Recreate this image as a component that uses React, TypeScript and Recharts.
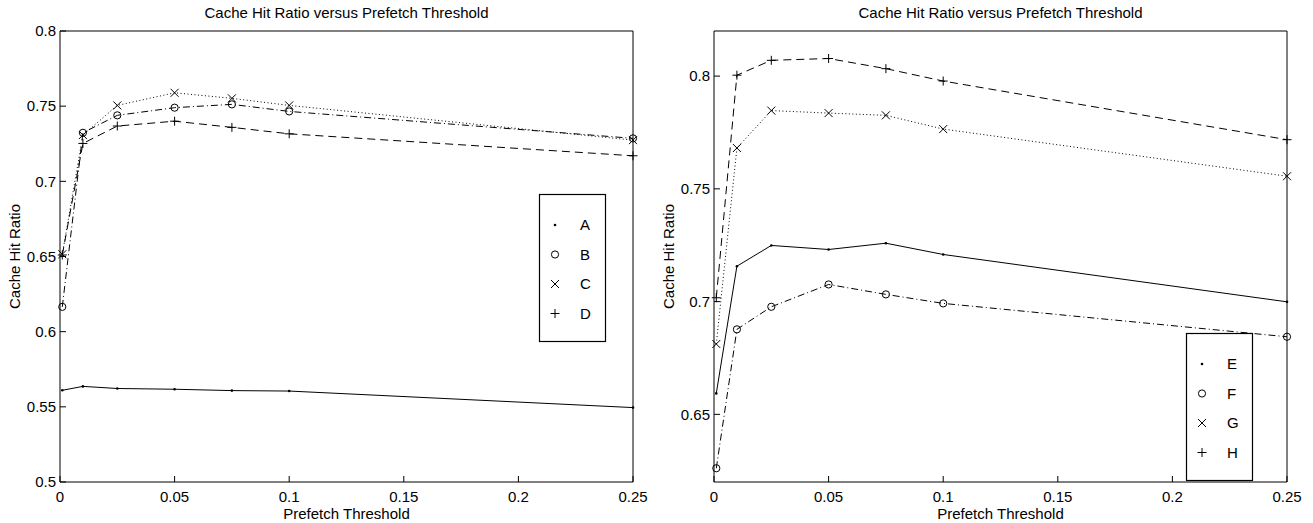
import { LineChart, Line, XAxis, YAxis, Label } from "recharts";

// prefetch thresholds where the hit ratio was measured
const thresholds = [0.001, 0.01, 0.025, 0.05, 0.075, 0.1, 0.25];
const xTicks = [0, 0.05, 0.1, 0.15, 0.2, 0.25];

// left panel
const seriesA = [0.561, 0.5636, 0.5622, 0.5617, 0.5608, 0.5605, 0.5495];
const seriesB = [0.6165, 0.7323, 0.7439, 0.749, 0.7512, 0.7465, 0.7286];
const seriesC = [0.6515, 0.7308, 0.7505, 0.7589, 0.7552, 0.7505, 0.7274];
const seriesD = [0.651, 0.7252, 0.7368, 0.74, 0.7359, 0.7316, 0.717];
const leftYTicks = [0.5, 0.55, 0.6, 0.65, 0.7, 0.75, 0.8];

// right panel
const seriesE = [0.6593, 0.7157, 0.7249, 0.7231, 0.7259, 0.7209, 0.6999];
const seriesF = [0.6261, 0.6877, 0.6977, 0.7076, 0.7032, 0.6992, 0.6844];
const seriesG = [0.6812, 0.7681, 0.7847, 0.7836, 0.7826, 0.7765, 0.7556];
const seriesH = [0.7017, 0.8004, 0.807, 0.8078, 0.8033, 0.7978, 0.7718];
const rightYTicks = [0.65, 0.7, 0.75, 0.8];

const TITLE = "Cache Hit Ratio versus Prefetch Threshold";
const FONT = 15;
const TICK_LEN = 6;
const X_GAP = 9;
const Y_GAP = 4;

type MarkerKind = "point" | "circle" | "x" | "plus";
type Series = { name: string; values: number[]; marker: MarkerKind; dash?: string };

// matlab-ish line styles: '-', '-.', ':', '--'
const SOLID = undefined;
const DASH_DOT = "7 3 1 3";
const DOTTED = "1 2.5";
const DASHED = "8 5";

const leftSeries: Series[] = [
  { name: "A", values: seriesA, marker: "point", dash: SOLID },
  { name: "B", values: seriesB, marker: "circle", dash: DASH_DOT },
  { name: "C", values: seriesC, marker: "x", dash: DOTTED },
  { name: "D", values: seriesD, marker: "plus", dash: DASHED },
];

const rightSeries: Series[] = [
  { name: "E", values: seriesE, marker: "point", dash: SOLID },
  { name: "F", values: seriesF, marker: "circle", dash: DASH_DOT },
  { name: "G", values: seriesG, marker: "x", dash: DOTTED },
  { name: "H", values: seriesH, marker: "plus", dash: DASHED },
];

function Marker({ kind, cx, cy }: { kind: MarkerKind; cx: number; cy: number }) {
  if (cx == null || cy == null) return null;
  switch (kind) {
    case "point":
      return <circle cx={cx} cy={cy} r={1.3} fill="#000" />;
    case "circle":
      return <circle cx={cx} cy={cy} r={3.6} fill="none" stroke="#000" strokeWidth={1} />;
    case "x":
      return (
        <path
          d={`M${cx - 4},${cy - 4}L${cx + 4},${cy + 4}M${cx - 4},${cy + 4}L${cx + 4},${cy - 4}`}
          stroke="#000"
          strokeWidth={1}
          fill="none"
        />
      );
    default:
      return (
        <path
          d={`M${cx - 4.5},${cy}H${cx + 4.5}M${cx},${cy - 4.5}V${cy + 4.5}`}
          stroke="#000"
          strokeWidth={1}
          fill="none"
        />
      );
  }
}

// bottom tick: label below, tick mark pointing into the plot
const XTick = (props: any) => {
  const { x, y, payload } = props;
  return (
    <g>
      <line x1={x} x2={x} y1={y - X_GAP} y2={y - X_GAP - TICK_LEN} stroke="#000" />
      <text x={x} y={y} dy="0.71em" textAnchor="middle" fontSize={FONT} fill="#000">
        {payload.value}
      </text>
    </g>
  );
};

const YTick = (props: any) => {
  const { x, y, payload } = props;
  return (
    <g>
      <line x1={x + Y_GAP} x2={x + Y_GAP + TICK_LEN} y1={y} y2={y} stroke="#000" />
      <text x={x} y={y} dy="0.355em" textAnchor="end" fontSize={FONT} fill="#000">
        {payload.value}
      </text>
    </g>
  );
};

function LegendBox({ series, left, top }: { series: Series[]; left: number; top: number }) {
  const w = 67;
  const h = 148;
  return (
    <svg
      width={w}
      height={h}
      style={{ position: "absolute", left, top, overflow: "visible" }}
    >
      <rect x={0.5} y={0.5} width={w - 1} height={h - 1} fill="#fff" stroke="#000" strokeWidth={1.2} />
      {series.map((s, i) => {
        const cy = 31 + i * 29.5;
        return (
          <g key={s.name}>
            <Marker kind={s.marker} cx={16} cy={cy} />
            <text x={41} y={cy} dy="0.355em" fontSize={FONT} fill="#000">
              {s.name}
            </text>
          </g>
        );
      })}
    </svg>
  );
}

function Panel({
  series,
  yDomain,
  yTicks,
  width,
  legendLeft,
  legendTop,
}: {
  series: Series[];
  yDomain: [number, number];
  yTicks: number[];
  width: number;
  legendLeft: number;
  legendTop: number;
}) {
  const data = thresholds.map((t, i) => {
    const row: Record<string, number> = { t };
    for (const s of series) row[s.name] = s.values[i];
    return row;
  });
  const plotLeft = 60;
  const plotRight = width - 26;

  return (
    <div style={{ position: "relative", width, height: 523 }}>
      <LineChart width={width} height={523} data={data} margin={{ top: 31, right: 26, bottom: 0, left: 0 }}>
        <text
          x={(plotLeft + plotRight) / 2}
          y={18}
          textAnchor="middle"
          fontSize={FONT}
          fill="#000"
        >
          {TITLE}
        </text>
        <XAxis
          xAxisId="x"
          dataKey="t"
          type="number"
          domain={[0, 0.25]}
          ticks={xTicks}
          height={41}
          stroke="#000"
          tickLine={false}
          tickSize={0}
          tickMargin={X_GAP}
          tick={<XTick />}
          interval={0}
        >
          <Label value="Prefetch Threshold" position="insideBottom" offset={4} fontSize={FONT} fill="#000" />
        </XAxis>
        <XAxis
          xAxisId="top"
          orientation="top"
          mirror
          type="number"
          domain={[0, 0.25]}
          ticks={xTicks}
          allowDataOverflow
          stroke="#000"
          tick={false}
          tickSize={TICK_LEN}
          interval={0}
        />
        <YAxis
          yAxisId="y"
          type="number"
          domain={yDomain}
          ticks={yTicks}
          width={60}
          stroke="#000"
          tickLine={false}
          tickSize={0}
          tickMargin={Y_GAP}
          tick={<YTick />}
          interval={0}
        >
          <Label
            value="Cache Hit Ratio"
            angle={-90}
            position="insideLeft"
            offset={15}
            textAnchor="middle"
            fontSize={FONT}
            fill="#000"
          />
        </YAxis>
        <YAxis
          yAxisId="right"
          orientation="right"
          mirror
          type="number"
          domain={yDomain}
          ticks={yTicks}
          allowDataOverflow
          stroke="#000"
          tick={false}
          tickSize={TICK_LEN}
          interval={0}
        />
        {series.map((s) => (
          <Line
            key={s.name}
            xAxisId="x"
            yAxisId="y"
            type="linear"
            dataKey={s.name}
            stroke="#000"
            strokeWidth={1}
            strokeDasharray={s.dash}
            isAnimationActive={false}
            activeDot={false}
            dot={(p: any) => (
              <Marker key={`${s.name}-${p.index}`} kind={s.marker} cx={p.cx} cy={p.cy} />
            )}
          />
        ))}
      </LineChart>
      <LegendBox series={series} left={legendLeft} top={legendTop} />
    </div>
  );
}

export default function App() {
  return (
    <div
      style={{
        position: "absolute",
        left: 0,
        top: 0,
        width: 1313,
        height: 523,
        background: "#fff",
        fontFamily: "'Liberation Sans', Arial, Helvetica, sans-serif",
      }}
    >
      <div style={{ position: "absolute", left: 0, top: 0 }}>
        <Panel
          series={leftSeries}
          yDomain={[0.5, 0.8]}
          yTicks={leftYTicks}
          width={659}
          legendLeft={539}
          legendTop={194}
        />
      </div>
      <div style={{ position: "absolute", left: 654, top: 0 }}>
        <Panel
          series={rightSeries}
          yDomain={[0.62, 0.82]}
          yTicks={rightYTicks}
          width={659}
          legendLeft={532}
          legendTop={333}
        />
      </div>
    </div>
  );
}
